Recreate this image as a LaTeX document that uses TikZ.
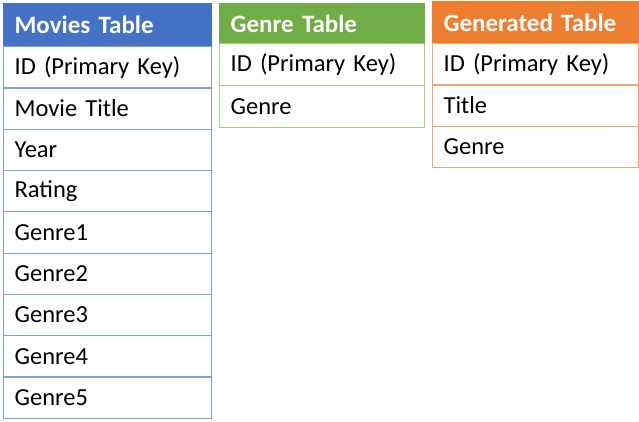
\documentclass[tikz,border=0pt]{standalone}
\usepackage{fontspec}
\setmainfont{Carlito}
\definecolor{mblue}{HTML}{4472C4}
\definecolor{mblueline}{HTML}{7F9FD8}
\definecolor{mgreen}{HTML}{70AD47}
\definecolor{mgreenline}{HTML}{A3CC86}
\definecolor{morange}{HTML}{ED7D31}
\definecolor{morangeline}{HTML}{F2A571}
\begin{document}
\begin{tikzpicture}[x=1pt,y=-1pt,
  cell/.style={rectangle, anchor=north west, inner xsep=11pt, inner ysep=0pt,
    align=left, font=\fontsize{24.5}{28}\selectfont, line width=1.2pt},
  head/.style={cell, text=white, font=\fontsize{25}{28}\selectfont\bfseries},
]
\useasboundingbox (0,0) rectangle (639,421);

% Movies table
\node[head, fill=mblue, draw=mblue, text width=186pt, minimum height=43pt] (mh) at (3,3) {Movies Table};
\foreach \t [count=\i from 0] in {ID (Primary Key),Movie Title,Year,Rating,Genre1,Genre2,Genre3,Genre4,Genre5}{
  \node[cell, draw=mblueline, text width=186pt, minimum height=41.3pt] (m\i) at (3,46+41.3*\i) {\t};
}

% Genre table
\node[head, fill=mgreen, draw=mgreen, text width=183pt, minimum height=40pt] (gh) at (219,3) {Genre Table};
\foreach \t [count=\i from 0] in {ID (Primary Key),Genre}{
  \node[cell, draw=mgreenline, text width=183pt, minimum height=42pt] (g\i) at (219,43+42*\i) {\t};
}

% Generated table
\node[head, fill=morange, draw=morange, text width=184pt, minimum height=42pt] (oh) at (432,1) {Generated Table};
\foreach \t [count=\i from 0] in {ID (Primary Key),Title,Genre}{
  \node[cell, draw=morangeline, text width=184pt, minimum height=41.3pt] (o\i) at (432,43+41.3*\i) {\t};
}
\end{tikzpicture}
\end{document}
